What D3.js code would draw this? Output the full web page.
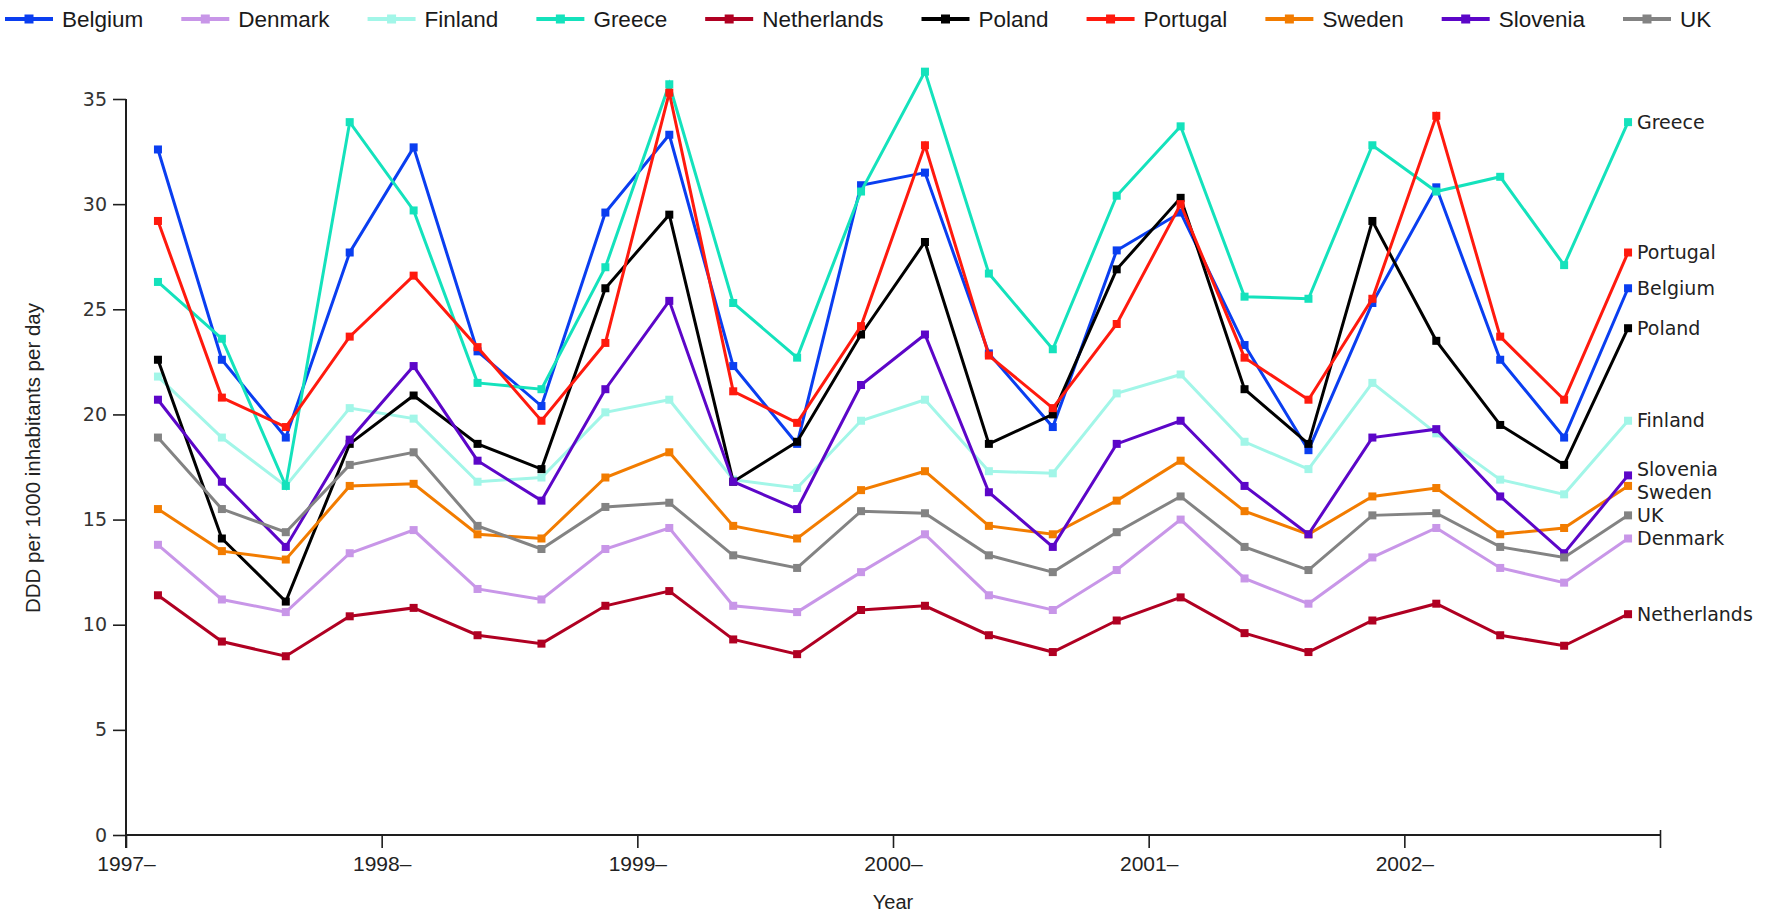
<!DOCTYPE html>
<html><head><meta charset="utf-8">
<script src="https://cdn.jsdelivr.net/npm/d3@7"></script>
<style>
html,body{margin:0;padding:0;background:#fff;}
svg{display:block;}
</style></head>
<body>
<svg id="chart" width="1773" height="915"></svg>
<script>
// ---- Data (quarterly, 1997 Q1 .. 2002 Q4) ----
const countries = ["Belgium","Denmark","Finland","Greece","Netherlands","Poland","Portugal","Sweden","Slovenia","UK"];
const colors = ["#0a3ef0","#c896e8","#a2f6e8","#14e2bc","#b00022","#000000","#ff1a0e","#f27c00","#5c06c8","#838383"];
const yearTicks = [1997,1998,1999,2000,2001,2002,2003];
const yTicks = [0,5,10,15,20,25,30,35];

const belgium     = [32.6,22.6,18.9,27.7, 32.7,23.0,20.4,29.6, 33.3,22.3,18.6,30.9, 31.5,22.9,19.4,27.8, 29.6,23.3,18.3,25.3, 30.8,22.6,18.9,26.0];
const denmark     = [13.8,11.2,10.6,13.4, 14.5,11.7,11.2,13.6, 14.6,10.9,10.6,12.5, 14.3,11.4,10.7,12.6, 15.0,12.2,11.0,13.2, 14.6,12.7,12.0,14.1];
const finland     = [21.8,18.9,16.6,20.3, 19.8,16.8,17.0,20.1, 20.7,16.9,16.5,19.7, 20.7,17.3,17.2,21.0, 21.9,18.7,17.4,21.5, 19.1,16.9,16.2,19.7];
const greece      = [26.3,23.6,16.6,33.9, 29.7,21.5,21.2,27.0, 35.7,25.3,22.7,30.6, 36.3,26.7,23.1,30.4, 33.7,25.6,25.5,32.8, 30.6,31.3,27.1,33.9];
const netherlands = [11.4, 9.2, 8.5,10.4, 10.8, 9.5, 9.1,10.9, 11.6, 9.3, 8.6,10.7, 10.9, 9.5, 8.7,10.2, 11.3, 9.6, 8.7,10.2, 11.0, 9.5, 9.0,10.5];
const poland      = [22.6,14.1,11.1,18.6, 20.9,18.6,17.4,26.0, 29.5,16.8,18.7,23.8, 28.2,18.6,20.0,26.9, 30.3,21.2,18.6,29.2, 23.5,19.5,17.6,24.1];
const portugal    = [29.2,20.8,19.4,23.7, 26.6,23.2,19.7,23.4, 35.3,21.1,19.6,24.2, 32.8,22.8,20.3,24.3, 30.0,22.7,20.7,25.5, 34.2,23.7,20.7,27.7];
const sweden      = [15.5,13.5,13.1,16.6, 16.7,14.3,14.1,17.0, 18.2,14.7,14.1,16.4, 17.3,14.7,14.3,15.9, 17.8,15.4,14.3,16.1, 16.5,14.3,14.6,16.6];
const slovenia    = [20.7,16.8,13.7,18.8, 22.3,17.8,15.9,21.2, 25.4,16.8,15.5,21.4, 23.8,16.3,13.7,18.6, 19.7,16.6,14.3,18.9, 19.3,16.1,13.4,17.1];
const uk          = [18.9,15.5,14.4,17.6, 18.2,14.7,13.6,15.6, 15.8,13.3,12.7,15.4, 15.3,13.3,12.5,14.4, 16.1,13.7,12.6,15.2, 15.3,13.7,13.2,15.2];

const seriesValues = [belgium,denmark,finland,greece,netherlands,poland,portugal,sweden,slovenia,uk];
const series = countries.map((name,i)=>({name, color:colors[i],
  values: seriesValues[i].map((v,q)=>({t: 1997 + (q+0.5)/4, v}))}));

// ---- Layout ----
const svg = d3.select("#chart");
const x = d3.scaleLinear().domain([1997,2003]).range([126,1660]);
const y = d3.scaleLinear().domain([0,35]).range([835,99]);
const axisColor = "#1e1e1e";
const condensed = "'Liberation Sans', Arial, sans-serif";
const wide = "'DejaVu Sans', Verdana, sans-serif";

// y axis
const gy = svg.append("g").attr("transform","translate(126,0)")
  .call(d3.axisLeft(y).tickValues(yTicks).tickSize(13).tickSizeOuter(0).tickPadding(6));
gy.select(".domain").remove();
gy.selectAll(".tick line").attr("stroke",axisColor).attr("stroke-width",1.6);
gy.selectAll(".tick text").attr("font-family",wide).attr("font-size",19).attr("fill","#333");
svg.append("line").attr("x1",126).attr("x2",126).attr("y1",y(35)).attr("y2",y(0)+13)
  .attr("stroke",axisColor).attr("stroke-width",2);

// x axis
const gx = svg.append("g").attr("transform","translate(0,835)")
  .call(d3.axisBottom(x).tickValues(yearTicks).tickSize(13).tickSizeOuter(0).tickPadding(8)
    .tickFormat(d => d < 2003 ? d + "\u2013" : ""));
gx.select(".domain").remove();
gx.selectAll(".tick line").attr("stroke",axisColor).attr("stroke-width",1.6);
gx.selectAll(".tick").filter(d=>d===2003).select("line").attr("y1",-5);
gx.selectAll(".tick text").attr("font-family",condensed).attr("font-size",21).attr("fill","#222");
svg.append("line").attr("x1",126).attr("x2",1660).attr("y1",835).attr("y2",835)
  .attr("stroke",axisColor).attr("stroke-width",2);

// axis titles
svg.append("text").attr("x",893).attr("y",909).attr("text-anchor","middle")
  .attr("font-family",condensed).attr("font-size",20).attr("fill","#222").text("Year");
svg.append("text").attr("transform","translate(40,458) rotate(-90)").attr("text-anchor","middle")
  .attr("font-family",condensed).attr("font-size",20.5).attr("fill","#222")
  .text("DDD per 1000 inhabitants per day");

// lines
const line = d3.line().x(d=>x(d.t)).y(d=>y(d.v));
const gs = svg.append("g").selectAll("g").data(series).join("g");
gs.append("path").attr("d",d=>line(d.values)).attr("fill","none")
  .attr("stroke",d=>d.color).attr("stroke-width",3).attr("stroke-linejoin","miter");
gs.selectAll("rect").data(d=>d.values.map(p=>({...p,color:d.color}))).join("rect")
  .attr("x",d=>x(d.t)-4).attr("y",d=>y(d.v)-4).attr("width",8).attr("height",8)
  .attr("fill",d=>d.color);

// right-end labels with simple collision avoidance
const ends = series.map(s=>({name:s.name, py:y(s.values[s.values.length-1].v)}))
  .sort((a,b)=>a.py-b.py);
const minGap = 23;
for (let it=0; it<50; it++){
  for (let i=1;i<ends.length;i++){
    const d = ends[i].py - ends[i-1].py;
    if (d < minGap){ const s=(minGap-d)/2; ends[i].py+=s; ends[i-1].py-=s; }
  }
}
svg.append("g").selectAll("text").data(ends).join("text")
  .attr("x",1637).attr("y",d=>d.py).attr("dy","0.35em")
  .attr("font-family",wide).attr("font-size",19).attr("fill","#222").text(d=>d.name);

// legend
const lg = svg.append("g");
let lx = 5;
series.forEach(s=>{
  const g = lg.append("g");
  g.append("line").attr("x1",lx).attr("x2",lx+48).attr("y1",19).attr("y2",19)
    .attr("stroke",s.color).attr("stroke-width",4);
  g.append("rect").attr("x",lx+24-4.5).attr("y",14.5).attr("width",9).attr("height",9).attr("fill",s.color);
  const t = g.append("text").attr("x",lx+57).attr("y",19).attr("dy","0.35em")
    .attr("font-family",condensed).attr("font-size",22.5).attr("fill","#1a1a1a").text(s.name);
  lx = lx + 57 + t.node().getComputedTextLength() + 38;
});
</script>
</body></html>
